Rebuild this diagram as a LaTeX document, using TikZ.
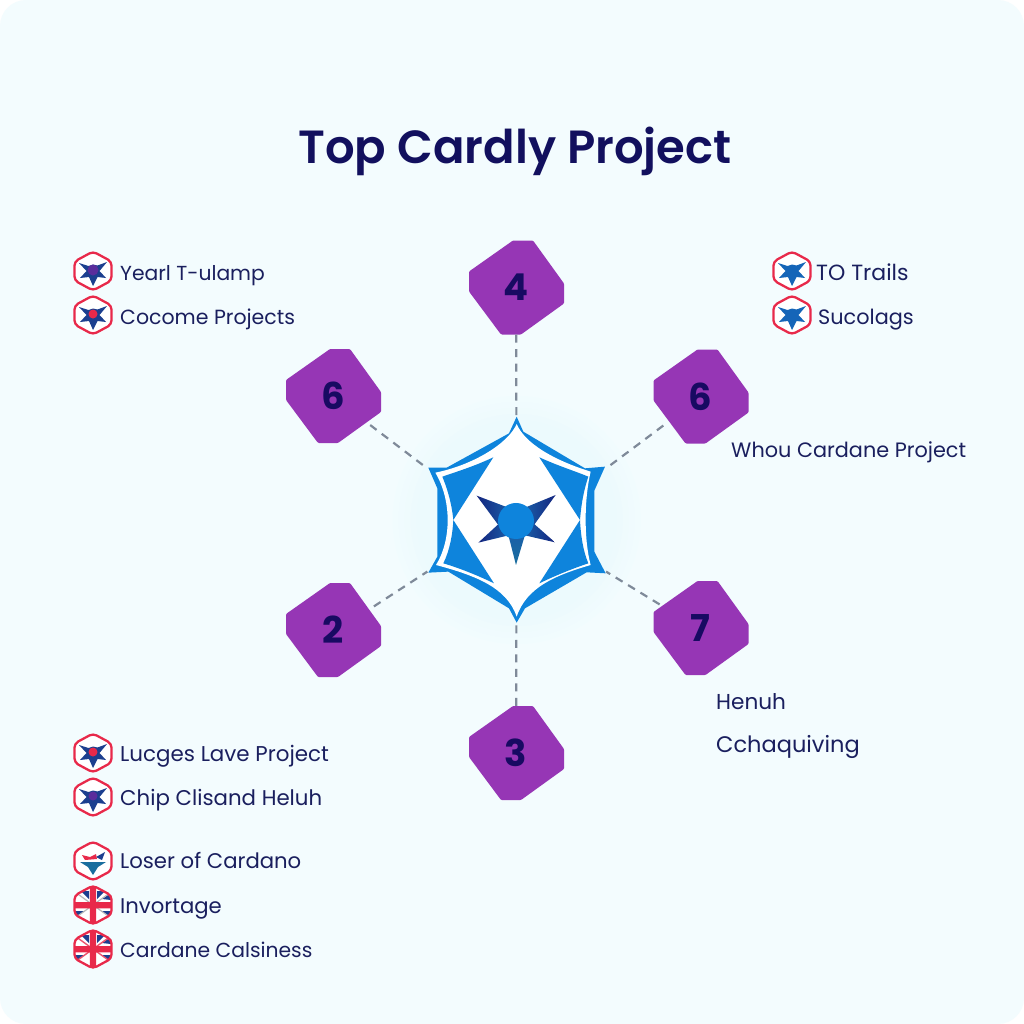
\documentclass[tikz,border=0pt]{standalone}
\usepackage{fontspec}
\setmainfont{Poppins}
\newfontfamily\titlefont{Poppins SemiBold}
\usetikzlibrary{shapes.geometric}
\definecolor{bgc}{HTML}{F3FCFE}
\definecolor{glow}{HTML}{ECFAFD}
\definecolor{ink}{HTML}{1A1F5E}
\definecolor{titleink}{HTML}{12105E}
\definecolor{numink}{HTML}{180A62}
\definecolor{purp}{HTML}{9636B5}
\definecolor{hubblue}{HTML}{0E84DC}
\definecolor{starnavy}{HTML}{14257F}
\definecolor{starmid}{HTML}{1A5FA8}
\definecolor{conn}{HTML}{7F8A99}
\definecolor{hexred}{HTML}{E8294A}
\definecolor{iconnavy}{HTML}{1C3F8F}
\definecolor{iconblue}{HTML}{1565B8}
\definecolor{iconpurple}{HTML}{5A2D9C}
\definecolor{iconteal}{HTML}{1A6E9E}
\tikzset{
  x=1pt,y=-1pt,
  badgeshape/.style={fill=purp,rounded corners=1pt},
  badgetext/.style={circle,minimum size=94pt,inner sep=0pt,text=numink,font=\fontsize{37}{40}\selectfont\bfseries},
  hubnode/.style={circle,minimum size=206pt,inner sep=0pt},
  link/.style={draw=conn,line width=2.2pt,dash pattern=on 8pt off 6.5pt},
  label/.style={anchor=base west,inner sep=0pt,text=ink},
  hexline/.style={draw=hexred,line width=2.3pt,rounded corners=4pt},
}
\newcommand{\badge}[4]{%
  \begin{scope}[shift={(#2,#3)}]
    \fill[badgeshape] (-3,-47)--(17,-47)--(48,-4)--(48,16)--(5,47)--(-15,47)--(-47,4)--(-47,-16)--cycle;
  \end{scope}
  \node[badgetext] (#1) at (#2,#3) {#4};}
\newcommand{\lab}[5]{\node[label,font=\fontsize{#4}{24}\selectfont] (#1) at (#2,#3) {#5};}
\newcommand{\hexpath}{(0,-19.5)--(18.5,-9.5)--(18.5,9.5)--(0,19.5)--(-18.5,9.5)--(-18.5,-9.5)--cycle}
\newcommand{\staricon}[5]{% x y arm-colour centre-colour centre-radius
  \begin{scope}[shift={(#1,#2)}]
    \fill[white] \hexpath;
    \draw[hexline] \hexpath;
    \fill[#3] (-14,-8)--(-4.5,-5)--(0,-6.5)--(4.5,-5.5)--(14,-9)--(6.5,0)--(13,7)--(4.5,6)--(0,15)--(-4,6)--(-13,7)--(-6.5,0)--cycle;
    \fill[#4] (0,-1) circle (#5);
  \end{scope}}
\newcommand{\flagicon}[4]{% x y diagonal-colour width
  \begin{scope}[shift={(#1,#2)}]
    \begin{scope}
      \clip \hexpath;
      \fill[white] (-20,-20) rectangle (20,20);
      \fill[iconnavy] (18,-12)--(9,-6)--(18,-5)--cycle
        (-18,12)--(-8,6)--(-18,6)--cycle (18,12)--(8,6)--(18,6)--cycle
        (-12,-14)--(-4,-6)--(-4,-14)--cycle (12,-14)--(4,-6)--(4,-14)--cycle;
      \draw[#3,line width=#4pt] (-18,-13)--(18,13) (18,-13)--(-18,13);
      \fill[hexred] (-20,-3) rectangle (20,3.4) (-3.2,-20) rectangle (3.2,20);
    \end{scope}
    \draw[hexline] \hexpath;
  \end{scope}}
\begin{document}
\begin{tikzpicture}
\useasboundingbox (0,0) rectangle (1024,1024);
\fill[white] (0,0) rectangle (1024,1024);
\fill[bgc,rounded corners=26pt] (0,0) rectangle (1024,1024);
% soft glow round the hub
\foreach \r/\m in {124/20,118/40,112/60,106/80,100/100}{
  \fill[glow!\m!bgc] (516.7,520) circle (\r);
}

% title
\node[anchor=center,inner sep=0pt,text=titleink,font=\fontsize{46.5}{54}\selectfont\titlefont] (title) at (515,151) {Top Cardly Project};

% hub
\node[hubnode] (hub) at (516.7,520) {};
\begin{scope}[shift={(410,400)},x=0.3333pt,y=-0.3333pt]
  \fill[hubblue] (320,50)--(340,95)--(525,205)--(585,200)--(553,272)--(553,455)--(587,520)--(530,517)--(345,625)--(320,668)--(297,625)--(115,515)--(55,518)--(82,470)--(82,265)--(55,203)--(110,203)--(297,100)--cycle;
  \fill[white] (320,72) .. controls (345,130) and (430,180) .. (542,215)
     .. controls (522,300) and (522,420) .. (542,495)
     .. controls (440,525) and (350,560) .. (320,650)
     .. controls (290,560) and (190,525) .. (78,495)
     .. controls (125,420) and (125,300) .. (76,218)
     .. controls (190,195) and (295,130) .. cycle;
  \fill[hubblue] (388,172) .. controls (450,200) and (500,215) .. (535,230)
     .. controls (515,290) and (512,340) .. (510,360) -- cycle;
  \fill[hubblue] (510,360) .. controls (512,400) and (518,450) .. (535,490)
     .. controls (490,505) and (440,525) .. (388,550) -- cycle;
  \fill[hubblue] (250,172) .. controls (190,200) and (140,215) .. (97,230)
     .. controls (122,290) and (128,340) .. (130,360) -- cycle;
  \fill[hubblue] (130,360) .. controls (128,400) and (120,450) .. (100,490)
     .. controls (150,505) and (200,525) .. (252,550) -- cycle;
  % centre star
  \shade[left color=starnavy,right color=starmid] (200,287)--(300,325)--(265,375)--cycle;
  \shade[left color=starmid,right color=starnavy] (437,285)--(340,325)--(372,375)--cycle;
  \shade[left color=starnavy,right color=starmid] (205,428)--(270,368)--(300,405)--cycle;
  \shade[left color=starmid,right color=starnavy] (435,427)--(368,368)--(340,405)--cycle;
  \shade[top color=starmid,bottom color=iconteal] (295,405)--(345,405)--(318,495)--cycle;
  \fill[hubblue] (318,363) circle (54);
\end{scope}

% numbered badges
\badge{ntop}{516}{287.5}{4}
\badge{nul}{333}{396}{6}
\badge{nur}{700.5}{396.5}{6}
\badge{nll}{333}{630}{2}
\badge{nlr}{700.5}{628}{7}
\badge{nbot}{516}{753}{3}

% connectors
\draw[link] (ntop) -- (hub);
\draw[link] (nul.-38) -- (hub.150);
\draw[link] (nur.218) -- (hub.30);
\draw[link] (nll.30) -- (hub.210);
\draw[link] (nlr.150) -- (hub.-30);
\draw[link] (nbot) -- (hub);

% icons
\staricon{93}{271}{iconnavy}{iconpurple}{5.5}
\staricon{93}{315}{iconnavy}{hexred}{4.5}
\staricon{792}{271}{iconblue}{iconblue}{5}
\staricon{792}{315}{iconblue}{iconblue}{5}
\staricon{93}{753}{iconnavy}{hexred}{4.5}
\staricon{93}{797}{iconnavy}{iconpurple}{4.5}
\begin{scope}[shift={(93,861)}]
  \fill[white] \hexpath;
  \draw[hexline] \hexpath;
  \fill[iconteal] (-13,1)--(13,1)--(5,6)--(0,14)--(-5,6)--cycle;
  \fill[iconnavy] (3,-4)--(12,-9)--(9,-1)--cycle;
  \fill[hexred] (-11,-6)--(-3,-4)--(3,-7)--(4,-2)--(-8,-1)--cycle;
\end{scope}
\flagicon{93}{905}{gray!55}{1.2}
\flagicon{93}{949}{hexred!80}{1.4}

% labels
\lab{l1}{120}{280}{20.3}{Yearl T-ulamp}
\lab{l2}{120}{324}{20.5}{Cocome Projects}
\lab{r1}{816}{280}{22}{TO Trails}
\lab{r2}{818}{324}{20.8}{Sucolags}
\lab{r3}{731}{457.5}{20.8}{Whou Cardane Project}
\lab{r4}{716}{709}{21.6}{Henuh}
\lab{r5}{716}{752}{22.5}{Cchaquiving}
\lab{l3}{120}{761.5}{21.4}{Lucges Lave Project}
\lab{l4}{120}{805.5}{21.3}{Chip Clisand Heluh}
\lab{l5}{120}{868.5}{21.2}{Loser of Cardano}
\lab{l6}{120}{913}{21.2}{Invortage}
\lab{l7}{120}{957.5}{20.3}{Cardane Calsiness}
\end{tikzpicture}
\end{document}
